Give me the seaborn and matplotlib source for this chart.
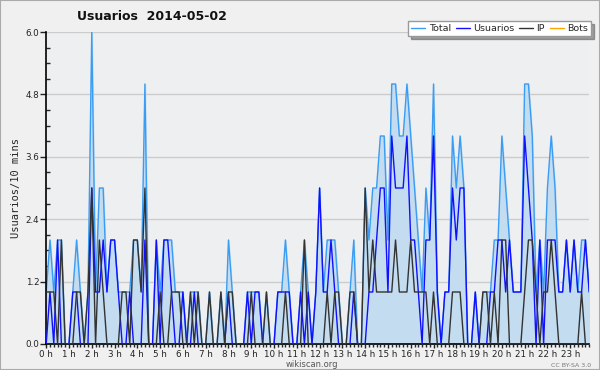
import numpy as np
import pandas as pd
import seaborn as sns
import matplotlib.pyplot as plt
from matplotlib.ticker import MultipleLocator, FixedLocator

# valores cada 10 minutos (144 puntos)
usuarios = [0, 1, 0, 2, 0, 0, 0, 1, 1, 0, 0, 0,
            3, 1, 1, 2, 1, 2, 2, 1, 0, 0, 1, 0,
            0, 0, 2, 0, 0, 2, 0, 2, 2, 1, 0, 0,
            1, 0, 0, 1, 0, 0, 0, 0, 0, 0, 0, 0,
            1, 0, 0, 0, 0, 1, 0, 1, 1, 0, 0, 0,
            0, 1, 1, 1, 1, 0, 0, 1, 0, 1, 0, 1,
            3, 1, 1, 2, 1, 0, 0, 0, 0, 1, 0, 0,
            0, 1, 1, 2, 3, 3, 1, 4, 3, 3, 3, 4,
            2, 2, 1, 0, 2, 2, 4, 1, 0, 1, 1, 3,
            2, 3, 3, 0, 0, 1, 0, 0, 0, 1, 1, 2,
            2, 1, 2, 1, 1, 1, 4, 3, 2, 0, 2, 0,
            2, 2, 2, 1, 1, 2, 1, 2, 1, 1, 2, 1]
ip = [1, 1, 1, 0, 2, 0, 0, 0, 1, 1, 0, 1,
      3, 0, 2, 1, 0, 0, 0, 0, 1, 1, 0, 2,
      2, 1, 3, 0, 0, 0, 1, 0, 0, 1, 1, 1,
      0, 0, 1, 0, 1, 0, 0, 1, 0, 0, 1, 0,
      1, 1, 0, 0, 0, 0, 1, 0, 0, 0, 1, 0,
      0, 0, 0, 1, 0, 0, 0, 0, 2, 0, 0, 0,
      0, 0, 1, 0, 1, 1, 0, 0, 1, 1, 0, 0,
      3, 1, 2, 1, 1, 1, 1, 1, 2, 1, 1, 1,
      2, 1, 1, 1, 1, 0, 1, 0, 0, 0, 0, 1,
      1, 1, 0, 0, 0, 0, 0, 1, 1, 0, 1, 0,
      2, 2, 0, 0, 0, 0, 1, 2, 2, 1, 0, 1,
      1, 2, 1, 0, 0, 0, 0, 0, 0, 1, 0, 0]
total = [1, 2, 1, 2, 2, 0, 0, 1, 2, 1, 0, 1,
         6, 1, 3, 3, 1, 2, 2, 1, 1, 1, 1, 2,
         2, 1, 5, 0, 0, 2, 1, 2, 2, 2, 1, 1,
         1, 0, 1, 1, 1, 0, 0, 1, 0, 0, 1, 0,
         2, 1, 0, 0, 0, 1, 1, 1, 1, 0, 1, 0,
         0, 1, 1, 2, 1, 0, 0, 1, 2, 1, 0, 1,
         3, 1, 2, 2, 2, 1, 0, 0, 1, 2, 0, 0,
         3, 2, 3, 3, 4, 4, 2, 5, 5, 4, 4, 5,
         4, 3, 2, 1, 3, 2, 5, 1, 0, 1, 1, 4,
         3, 4, 3, 0, 0, 1, 0, 1, 1, 1, 2, 2,
         4, 3, 2, 1, 1, 1, 5, 5, 4, 1, 2, 1,
         3, 4, 3, 1, 1, 2, 1, 2, 1, 2, 2, 1]
bots = [0] * 144
hour_labels = [f"{h} h" for h in range(24)]

df = pd.DataFrame({"t": np.arange(len(total)), "Total": total,
                   "Usuarios": usuarios, "IP": ip, "Bots": bots})

sns.set_style("white")
plt.rcParams['font.family'] = ['DejaVu Sans']

fig = plt.figure(figsize=(6, 3.7), dpi=100, facecolor='#f0f0f0')
ax = fig.add_axes([0.077, 0.0703, 0.905, 0.8432])
ax.set_facecolor('#eeeff1')

ax.fill_between(df["t"], df["Total"], color='#c4dcf0', zorder=1)
sns.lineplot(data=df, x="t", y="Bots", color='#ffa500', lw=1, ax=ax, label="Bots", zorder=1.5)
sns.lineplot(data=df, x="t", y="Total", color='#3a9cf2', lw=1, ax=ax, label="Total", zorder=2)
sns.lineplot(data=df, x="t", y="Usuarios", color='#1010ff', lw=1, ax=ax, label="Usuarios", zorder=3)
sns.lineplot(data=df, x="t", y="IP", color='#333333', lw=1, ax=ax, label="IP", zorder=4)

ax.set_xlim(0, 143)
ax.set_ylim(0, 6)
ax.yaxis.set_major_locator(FixedLocator([0, 1.2, 2.4, 3.6, 4.8, 6.0]))
ax.yaxis.set_minor_locator(MultipleLocator(0.3))
ax.set_yticklabels(["0.0", "1.2", "2.4", "3.6", "4.8", "6.0"])
ax.xaxis.set_major_locator(FixedLocator(np.arange(0, 144, 6)))
ax.xaxis.set_minor_locator(MultipleLocator(1))
ax.set_xticklabels(hour_labels)
ax.grid(axis='y', color='#cccccc', lw=1)
ax.set_axisbelow(True)

ax.tick_params(axis='both', which='major', labelsize=6.3, colors='#222222', pad=1)
ax.tick_params(axis='x', which='major', direction='out', length=3, width=1, bottom=True)
ax.tick_params(axis='x', which='minor', direction='out', length=2.5, width=1, bottom=True)
ax.tick_params(axis='y', which='major', direction='out', length=4, width=1, left=True)
ax.tick_params(axis='y', which='minor', direction='in', length=3, width=1, left=True)
for s in ['top', 'right']:
    ax.spines[s].set_visible(False)
for s in ['left', 'bottom']:
    ax.spines[s].set_color('black')
    ax.spines[s].set_linewidth(1.2)

ax.set_xlabel("")
ax.set_ylabel("Usuarios/10 mins", family='DejaVu Sans Mono', fontsize=7.5, labelpad=3)

handles, labels = ax.get_legend_handles_labels()
order = [labels.index(n) for n in ["Total", "Usuarios", "IP", "Bots"]]
leg = ax.legend([handles[k] for k in order], [labels[k] for k in order],
                ncol=4, loc='lower right', bbox_to_anchor=(1.003, 0.988),
                fontsize=6.8, frameon=True, fancybox=False, shadow=True,
                handlelength=1.5, handletextpad=0.35, columnspacing=0.5,
                borderpad=0.3, borderaxespad=0)
leg.get_frame().set_edgecolor('#999999')
leg.get_frame().set_linewidth(1)

fig.text(0.128, 0.945, "Usuarios  2014-05-02", fontsize=9, fontweight='bold', color='#111111')
fig.text(0.52, 0.008, "wikiscan.org", fontsize=6, color='#555555', ha='center')
fig.text(0.985, 0.008, "CC BY-SA 3.0", fontsize=4.5, color='#777777', ha='right')

fig.patches.append(plt.Rectangle((0, 0), 1, 1, transform=fig.transFigure,
                                 fill=False, edgecolor='#aaaaaa', lw=1.5))
fig.savefig("out.png", dpi=100, facecolor=fig.get_facecolor())
